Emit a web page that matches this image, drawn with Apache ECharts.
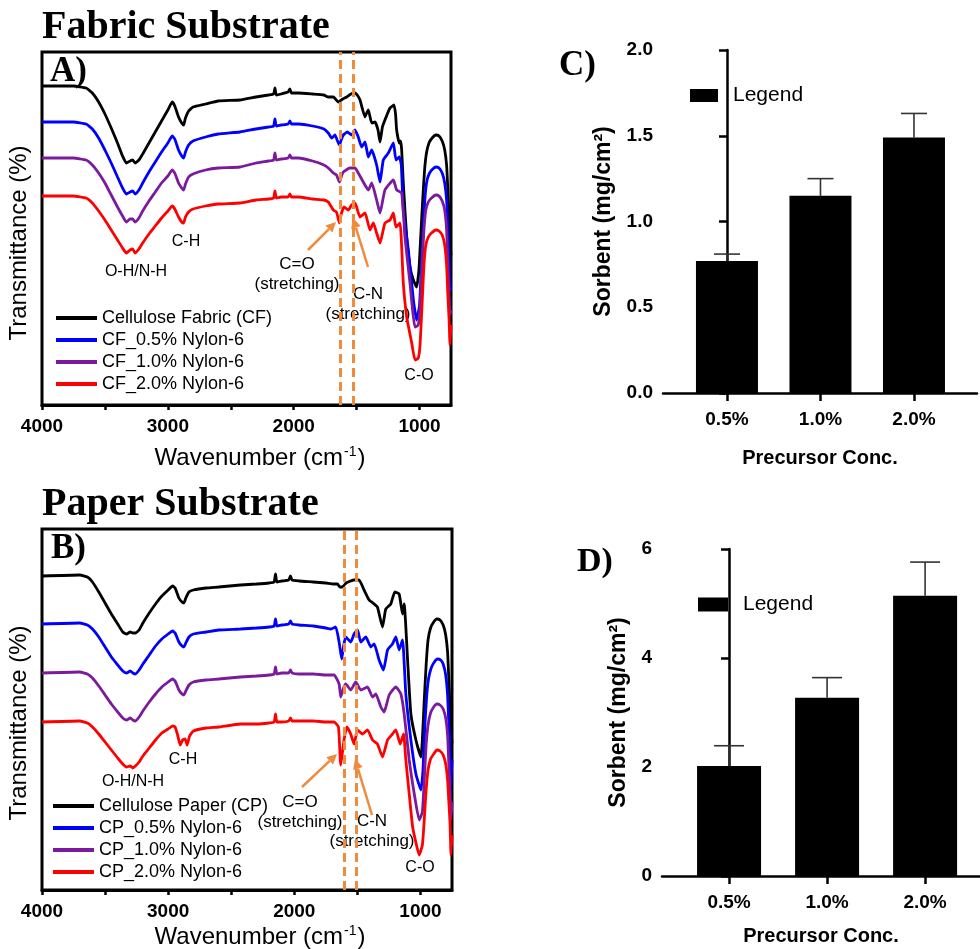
<!DOCTYPE html>
<html>
<head>
<meta charset="utf-8">
<script src="https://cdn.jsdelivr.net/npm/echarts@6.0.0/dist/echarts.min.js"></script>
<style>
html, body { margin: 0; padding: 0; background: #fff; }
#chart { width: 980px; height: 949px; }
</style>
</head>
<body>
<div id="chart"></div>
<script>
// FTIR spectra, [wavenumber (cm-1), transmittance (a.u., offset traces)]
var fabricCF = [[4000,319],[3750,319],[3650,317],[3600,312],[3550,303],[3500,291],[3450,277],[3400,262],[3360,249],[3330,242],[3300,244],[3280,245],[3260,242],[3230,245],[3200,251],[3150,262],[3100,273],[3050,284],[3000,295],[2965,303],[2945,299],[2915,288],[2890,282],[2875,280],[2860,287],[2835,294],[2800,298],[2700,301],[2600,304],[2427,305],[2300,308],[2200,310],[2160,311],[2149,317],[2138,310],[2100,311],[2045,313],[2030,316],[2018,312],[1963,312],[1850,311],[1760,310],[1725,308],[1685,308],[1645,303],[1610,306],[1579,308],[1545,311],[1513,312],[1490,309],[1473,305],[1433,288],[1420,292],[1407,295],[1380,282],[1354,283],[1330,275],[1314,263],[1295,278],[1275,285],[1235,297],[1203,300],[1190,290],[1182,275],[1161,262],[1150,264],[1142,255],[1129,222],[1102,168],[1076,138],[1049,125],[1023,118],[1005,135],[990,170],[975,205],[960,235],[945,252],[925,262],[900,267],[870,270],[845,269],[820,264],[800,255],[785,240],[775,215],[765,185],[758,165],[750,150]];
var fabric05 = [[4000,283],[3750,283],[3650,281],[3600,276],[3550,267],[3500,255],[3450,242],[3400,228],[3360,217],[3330,211],[3300,213],[3280,214],[3260,211],[3230,215],[3200,222],[3150,233],[3100,243],[3050,253],[3000,262],[2965,269],[2945,266],[2915,255],[2890,249],[2875,247],[2860,253],[2835,260],[2800,264],[2700,268],[2600,271],[2427,273],[2300,276],[2200,278],[2160,279],[2149,286],[2138,279],[2100,280],[2045,281],[2030,284],[2018,281],[1963,281],[1850,279],[1760,276],[1725,272],[1698,267],[1672,270],[1655,265],[1637,260],[1620,266],[1606,270],[1574,273],[1539,270],[1513,275],[1487,268],[1460,258],[1433,263],[1407,248],[1380,255],[1341,240],[1314,223],[1288,245],[1248,252],[1208,262],[1187,245],[1161,248],[1145,240],[1129,195],[1089,155],[1049,105],[1023,85],[1000,100],[985,140],[970,180],[955,210],[940,225],[920,232],[895,236],[870,238],[845,237],[820,232],[800,222],[785,205],[775,175],[765,140],[758,115],[750,118]];
var fabric10 = [[4000,247],[3750,247],[3650,245],[3600,240],[3550,232],[3500,222],[3450,210],[3400,198],[3360,189],[3330,183],[3300,186],[3280,186],[3260,183],[3230,187],[3200,194],[3150,204],[3100,213],[3050,222],[3000,229],[2965,235],[2945,232],[2915,222],[2890,217],[2875,215],[2860,221],[2835,228],[2800,231],[2700,235],[2600,237],[2427,238],[2300,242],[2200,244],[2160,245],[2149,252],[2138,245],[2100,246],[2045,247],[2030,250],[2018,247],[1963,247],[1850,244],[1760,240],[1725,237],[1685,232],[1660,230],[1637,223],[1620,229],[1606,233],[1553,237],[1513,237],[1487,232],[1447,223],[1407,215],[1380,222],[1341,205],[1314,192],[1275,215],[1208,225],[1182,215],[1142,212],[1116,168],[1076,122],[1036,78],[1010,80],[995,100],[980,140],[965,175],[950,195],[930,203],[905,207],[870,210],[845,209],[820,204],[800,195],[785,175],[775,140],[765,110],[758,90],[750,95]];
var fabric20 = [[4000,209],[3750,209],[3650,207],[3600,202],[3550,194],[3500,185],[3450,175],[3400,165],[3360,157],[3330,152],[3300,155],[3280,156],[3260,152],[3230,156],[3200,162],[3150,171],[3100,179],[3050,187],[3000,194],[2965,199],[2945,196],[2915,188],[2890,183],[2875,182],[2860,188],[2835,193],[2800,196],[2700,199],[2600,201],[2427,202],[2300,205],[2200,206],[2160,207],[2149,214],[2138,207],[2100,208],[2045,208],[2030,211],[2018,208],[1963,208],[1850,206],[1760,205],[1725,203],[1685,195],[1660,193],[1637,182],[1620,192],[1600,198],[1566,195],[1540,200],[1513,202],[1473,188],[1433,192],[1394,175],[1367,182],[1341,172],[1314,162],[1275,182],[1235,185],[1208,192],[1187,178],[1155,182],[1129,122],[1102,88],[1062,62],[1036,45],[1010,47],[996,60],[980,100],[965,140],[950,160],[930,168],[905,172],[870,175],[845,174],[820,170],[800,160],[785,140],[775,110],[765,85],[758,60],[750,80]];

var paperCP = [[4000,314],[3700,315],[3640,313],[3600,308],[3550,298],[3500,287],[3450,276],[3400,266],[3360,258],[3330,256],[3300,258],[3280,257],[3260,257],[3230,260],[3200,267],[3150,277],[3100,286],[3050,294],[3000,300],[2965,304],[2945,302],[2915,292],[2890,288],[2875,287],[2860,292],[2835,298],[2800,300],[2700,302],[2600,303],[2427,305],[2300,306],[2200,307],[2160,308],[2149,316],[2138,308],[2100,309],[2045,310],[2030,314],[2018,310],[1963,309],[1850,308],[1750,307],[1690,306],[1658,306],[1640,303],[1619,303],[1590,307],[1526,310],[1487,310],[1447,300],[1407,290],[1367,286],[1341,283],[1301,263],[1275,281],[1235,286],[1203,298],[1169,296],[1142,276],[1129,286],[1102,230],[1076,176],[1036,150],[996,133],[985,150],[970,190],[955,225],[940,250],[920,262],[895,268],[870,271],[845,270],[820,265],[800,255],[785,238],[775,210],[765,180],[758,160],[750,147]];
var paper05 = [[4000,266],[3700,267],[3640,265],[3600,261],[3550,253],[3500,243],[3450,233],[3400,225],[3360,219],[3330,217],[3300,219],[3280,217],[3260,216],[3230,220],[3200,226],[3150,235],[3100,244],[3050,251],[3000,256],[2965,259],[2945,257],[2915,248],[2890,244],[2875,243],[2860,247],[2835,253],[2800,256],[2700,258],[2600,260],[2427,261],[2300,262],[2200,263],[2160,264],[2149,271],[2138,264],[2100,265],[2045,266],[2030,269],[2018,266],[1963,265],[1850,264],[1750,262],[1712,261],[1672,263],[1645,248],[1624,231],[1608,245],[1592,253],[1553,248],[1526,256],[1499,260],[1473,248],[1433,253],[1394,243],[1367,246],[1328,230],[1293,220],[1261,240],[1222,246],[1195,253],[1169,240],[1142,250],[1116,196],[1076,150],[1036,116],[996,100],[980,120],[965,165],[950,195],[935,212],[915,222],[890,228],[865,231],[840,230],[820,226],[800,215],[785,195],[775,165],[765,135],[758,105],[750,130]];
var paper10 = [[4000,217],[3700,218],[3640,216],[3600,212],[3550,204],[3500,195],[3450,186],[3400,178],[3360,172],[3330,170],[3300,172],[3280,170],[3260,169],[3230,173],[3200,179],[3150,188],[3100,196],[3050,203],[3000,208],[2965,211],[2945,209],[2915,200],[2890,196],[2875,195],[2860,199],[2835,205],[2800,208],[2700,210],[2600,211],[2427,213],[2300,214],[2200,215],[2160,216],[2149,223],[2138,216],[2100,217],[2045,217],[2030,220],[2018,217],[1963,216],[1850,216],[1750,215],[1685,215],[1645,206],[1632,193],[1610,202],[1592,206],[1553,200],[1513,208],[1473,200],[1420,203],[1380,193],[1354,196],[1314,183],[1288,178],[1248,195],[1195,203],[1155,196],[1129,176],[1089,130],[1049,96],[1010,70],[985,78],[970,110],[955,145],[940,165],[920,177],[895,183],[870,186],[845,185],[820,181],[800,172],[785,155],[775,125],[765,100],[758,70],[750,88]];
var paper20 = [[4000,168],[3700,169],[3640,167],[3600,163],[3550,156],[3500,148],[3450,140],[3400,132],[3360,126],[3330,123],[3300,124],[3280,122],[3260,124],[3230,128],[3200,134],[3150,142],[3100,150],[3050,157],[3000,161],[2965,164],[2945,163],[2925,155],[2905,145],[2885,150],[2865,151],[2850,145],[2830,154],[2800,159],[2700,162],[2600,163],[2427,166],[2300,166],[2200,167],[2160,168],[2149,176],[2138,168],[2100,168],[2045,169],[2030,172],[2018,169],[1963,169],[1850,169],[1750,168],[1685,168],[1650,163],[1632,125],[1606,150],[1584,163],[1553,156],[1526,146],[1499,160],[1460,156],[1420,160],[1380,150],[1341,146],[1301,133],[1261,150],[1222,156],[1195,160],[1161,146],[1134,156],[1116,130],[1089,96],[1062,63],[1028,43],[1010,35],[985,45],[970,70],[955,100],[940,120],[920,131],[895,136],[870,140],[845,139],[820,135],[800,126],[785,110],[775,88],[765,65],[758,35],[750,55]];

var fabricNames = ['Cellulose Fabric (CF)', 'CF_0.5% Nylon-6', 'CF_1.0% Nylon-6', 'CF_2.0% Nylon-6'];
var paperNames = ['Cellulose Paper (CP)', 'CP_0.5% Nylon-6', 'CP_1.0% Nylon-6', 'CP_2.0% Nylon-6'];
var wnLabels = [1000, 2000, 3000, 4000];
var wnTicks = [1000, 1500, 2000, 2500, 3000, 3500, 4000];
var fabricBands = [1630, 1525];
var paperBands = [1608, 1510];

// sorbent loading (mg/cm2)
var concLabels = ['0.5%', '1.0%', '2.0%'];
var fabricSorbent = [0.77, 1.15, 1.49];
var fabricErr = [0.04, 0.10, 0.14];
var paperSorbent = [2.02, 3.27, 5.14];
var paperErr = [0.37, 0.37, 0.62];

var SANS = 'Liberation Sans, Arial, sans-serif';
var SERIF = 'Liberation Serif, Times New Roman, serif';
var ORANGE = '#f08a3c';
var colors = ['#000000', '#0000ff', '#7b1a9c', '#ff0000'];

var chart = echarts.init(document.getElementById('chart'));

function specX(grid) {
    return {
        gridIndex: grid, type: 'value', min: 750, max: 4000, inverse: true,
        axisLine: { show: true, lineStyle: { color: '#000', width: 3 } },
        axisTick: { show: true, customValues: wnTicks, length: 5, lineStyle: { color: '#000', width: 2.5 } },
        axisLabel: { customValues: wnLabels, formatter: function (v) { return String(v); }, margin: 12,
            color: '#000', fontSize: 19, fontWeight: 'bold', fontFamily: SANS },
        splitLine: { show: false }
    };
}

function barX(grid, max, gap, margin) {
    return {
        gridIndex: grid, type: 'value', min: -0.684, max: max,
        axisLine: { show: true, onZero: false, lineStyle: { color: '#000', width: 2.5 } },
        axisTick: { show: true, customValues: [0, 1, 2], length: 8, lineStyle: { color: '#000', width: 2.5 } },
        axisLabel: { customValues: [0, 1, 2], formatter: function (v) { return concLabels[Math.round(v)]; },
            margin: margin, color: '#000', fontSize: 19, fontWeight: 'bold', fontFamily: SANS },
        splitLine: { show: false },
        name: 'Precursor Conc.', nameLocation: 'middle', nameGap: gap,
        nameTextStyle: { fontSize: 20, fontWeight: 'bold', fontFamily: SANS, color: '#000' }
    };
}

function barY(grid, max, interval, digits, gap) {
    return {
        gridIndex: grid, type: 'value', min: 0, max: max, interval: interval,
        axisLine: { show: true, lineStyle: { color: '#000', width: 2.5 } },
        axisTick: { show: true, length: 8, lineStyle: { color: '#000', width: 2.5 } },
        axisLabel: { formatter: function (v) { return v.toFixed(digits); }, margin: 10,
            color: '#000', fontSize: 19, fontWeight: 'bold', fontFamily: SANS },
        splitLine: { show: false },
        name: 'Sorbent (mg/cm²)', nameLocation: 'middle', nameGap: gap,
        nameTextStyle: { fontSize: 23, fontWeight: 'bold', fontFamily: SANS, color: '#000' }
    };
}

function errorBar(half) {
    return function (params, api) {
        var x = api.value(0), v = api.value(1), e = api.value(2);
        var p0 = api.coord([x, v]);
        var p1 = api.coord([x, v + e]);
        var st = { stroke: '#333', lineWidth: 1.6 };
        return { type: 'group', children: [
            { type: 'line', shape: { x1: p0[0], y1: p0[1], x2: p1[0], y2: p1[1] }, style: st },
            { type: 'line', shape: { x1: p1[0] - half, y1: p1[1], x2: p1[0] + half, y2: p1[1] }, style: st }
        ] };
    };
}

function spectrum(name, data, idx, color, bands) {
    var s = {
        type: 'line', name: name, data: data, xAxisIndex: idx, yAxisIndex: idx,
        showSymbol: false, smooth: 0.15, z: 3,
        lineStyle: { color: color, width: 2.8 }, itemStyle: { color: color }
    };
    if (bands) {
        s.markLine = {
            silent: true, symbol: 'none', label: { show: false },
            lineStyle: { color: ORANGE, width: 3, type: [9, 5] },
            data: bands.map(function (w) { return { xAxis: w }; })
        };
    }
    return s;
}

function arrow(x1, y1, x2, y2) {
    var a = Math.atan2(y2 - y1, x2 - x1);
    var L = 10, W = 5;
    var bx = x2 - L * Math.cos(a), by = y2 - L * Math.sin(a);
    var px = -Math.sin(a) * W, py = Math.cos(a) * W;
    return { type: 'group', children: [
        { type: 'line', shape: { x1: x1, y1: y1, x2: bx, y2: by }, style: { stroke: ORANGE, lineWidth: 2.5 } },
        { type: 'polygon', shape: { points: [[x2, y2], [bx + px, by + py], [bx - px, by - py]] }, style: { fill: ORANGE } }
    ] };
}

function txt(x, y, s, size, font, weight, rot, align) {
    return { type: 'text', x: x, y: y, rotation: rot || 0,
        style: { text: s, fontSize: size, fontFamily: font, fontWeight: weight || 'normal', fill: '#000',
            align: align || 'center', verticalAlign: 'middle', lineHeight: Math.round(size * 1.2) } };
}

function wnTitle(x, y) {
    return { type: 'text', x: x, y: y,
        style: { text: '{n|Wavenumber (cm}{s|-1}{n|)}', align: 'center', verticalAlign: 'middle',
            rich: {
                n: { fontSize: 24, fontFamily: SANS, fill: '#000', lineHeight: 26 },
                s: { fontSize: 14, fontFamily: SANS, fill: '#000', verticalAlign: 'top', lineHeight: 26, padding: [0, 1, 0, 1] }
            } } };
}

var series = [];
[fabricCF, fabric05, fabric10, fabric20].forEach(function (d, i) {
    series.push(spectrum(fabricNames[i], d, 0, colors[i], i === 0 ? fabricBands : null));
});
[paperCP, paper05, paper10, paper20].forEach(function (d, i) {
    series.push(spectrum(paperNames[i], d, 1, colors[i], i === 0 ? paperBands : null));
});
series.push({ type: 'bar', name: 'Legend', xAxisIndex: 2, yAxisIndex: 2, barWidth: 62,
    data: fabricSorbent.map(function (v, i) { return [i, v]; }), itemStyle: { color: '#000' } });
series.push({ type: 'custom', name: 'fabric error', xAxisIndex: 2, yAxisIndex: 2, renderItem: errorBar(13),
    data: fabricSorbent.map(function (v, i) { return [i, v, fabricErr[i]]; }) });
series.push({ type: 'bar', name: 'Legend', xAxisIndex: 3, yAxisIndex: 3, barWidth: 64,
    data: paperSorbent.map(function (v, i) { return [i, v]; }), itemStyle: { color: '#000' } });
series.push({ type: 'custom', name: 'paper error', xAxisIndex: 3, yAxisIndex: 3, renderItem: errorBar(15),
    data: paperSorbent.map(function (v, i) { return [i, v, paperErr[i]]; }) });

var legendText = { fontSize: 18, fontFamily: SANS, color: '#000' };

var option = {
    animation: false,
    backgroundColor: '#fff',
    grid: [
        { left: 42, top: 52, width: 409, height: 353, show: true, borderColor: '#000', borderWidth: 3 },
        { left: 42, top: 529, width: 410, height: 361, show: true, borderColor: '#000', borderWidth: 3 },
        { left: 663, top: 50, width: 314, height: 343 },
        { left: 662, top: 549, width: 318, height: 327 }
    ],
    xAxis: [specX(0), specX(1), barX(2, 2.674, 55, 17), barX(3, 2.56, 50, 17)],
    yAxis: [
        { gridIndex: 0, type: 'value', min: 0, max: 353, show: false },
        { gridIndex: 1, type: 'value', min: 0, max: 361, show: false },
        barY(2, 2, 0.5, 1, 48),
        barY(3, 6, 2, 0, 32)
    ],
    legend: [
        { data: fabricNames, orient: 'vertical', left: 56, top: 309, padding: 0, icon: 'rect', itemWidth: 41, itemHeight: 4,
            itemGap: 4, textStyle: legendText, selectedMode: false },
        { data: paperNames, orient: 'vertical', left: 53, top: 797, padding: 0, icon: 'rect', itemWidth: 41, itemHeight: 4,
            itemGap: 4, textStyle: legendText, selectedMode: false },
        { data: ['Legend'], left: 685, top: 80, icon: 'rect', itemWidth: 28, itemHeight: 13, selectedMode: false,
            textStyle: { fontSize: 21, fontFamily: SANS, color: '#000', padding: [0, 0, 0, 10] } },
        { data: ['Legend'], left: 693, top: 589, icon: 'rect', itemWidth: 30, itemHeight: 14, selectedMode: false,
            textStyle: { fontSize: 21, fontFamily: SANS, color: '#000', padding: [0, 0, 0, 10] } }
    ],
    series: series,
    graphic: [
        txt(42, 28, 'Fabric Substrate', 40, SERIF, 'bold', 0, 'left'),
        txt(42, 505, 'Paper Substrate', 40, SERIF, 'bold', 0, 'left'),
        txt(50, 72, 'A)', 35, SERIF, 'bold', 0, 'left'),
        txt(51, 549, 'B)', 35, SERIF, 'bold', 0, 'left'),
        txt(559, 66, 'C)', 35, SERIF, 'bold', 0, 'left'),
        txt(577, 562, 'D)', 34, SERIF, 'bold', 0, 'left'),
        txt(19, 243, 'Transmittance (%)', 24, SANS, 'normal', Math.PI / 2),
        txt(19, 723, 'Transmittance (%)', 24, SANS, 'normal', Math.PI / 2),
        wnTitle(260, 458),
        wnTitle(260, 937),
        txt(136, 272, 'O-H/N-H', 16, SANS),
        txt(186, 242, 'C-H', 16, SANS),
        txt(297, 274, 'C=O\n(stretching)', 17, SANS),
        txt(368, 304, 'C-N\n(stretching)', 17, SANS),
        txt(419, 376, 'C-O', 16, SANS),
        txt(133, 782, 'O-H/N-H', 16, SANS),
        txt(183, 760, 'C-H', 16, SANS),
        txt(300, 812, 'C=O\n(stretching)', 17, SANS),
        txt(372, 831, 'C-N\n(stretching)', 17, SANS),
        txt(420, 868, 'C-O', 16, SANS),
        arrow(308, 250, 336, 222),
        arrow(368, 267, 353, 218),
        arrow(302, 787, 337, 754),
        arrow(372, 815, 355, 759)
    ]
};

chart.setOption(option);
</script>
</body>
</html>
